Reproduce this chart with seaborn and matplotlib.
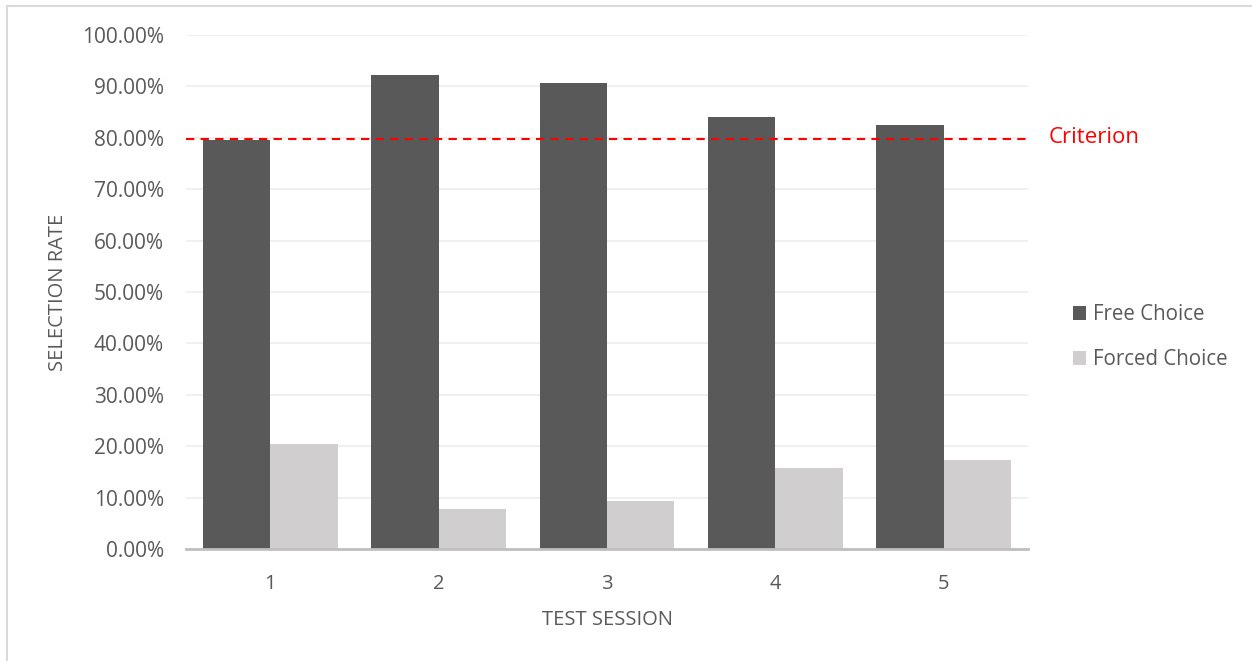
import matplotlib
matplotlib.use("Agg")
import matplotlib.pyplot as plt
from matplotlib.lines import Line2D
from matplotlib.patches import Patch
from matplotlib.ticker import PercentFormatter
import pandas as pd
import seaborn as sns

sessions = ["1", "2", "3", "4", "5"]
free_choice = [0.795, 0.922, 0.906, 0.841, 0.825]
forced_choice = [0.205, 0.078, 0.094, 0.158, 0.174]
criterion = 0.797
series = ["Free Choice", "Forced Choice"]
colors = ["#595959", "#D0CECE"]

df = pd.DataFrame({
    "session": sessions * 2,
    "rate": free_choice + forced_choice,
    "type": [series[0]] * 5 + [series[1]] * 5,
})

sns.set_style("white")
plt.rcParams["font.family"] = ["Open Sans", "DejaVu Sans"]
text_gray = "#595959"

fig = plt.figure(figsize=(12.52, 6.61), dpi=100)
ax = fig.add_axes([186 / 1252, 1 - 549 / 661, 842 / 1252, 514 / 661])

sns.barplot(data=df, x="session", y="rate", hue="type", palette=colors,
            ax=ax, width=0.8, linewidth=0, legend=False, saturation=1)

ax.axhline(criterion, color="#FF0000", linestyle=(0, (4, 3)), linewidth=1.5, zorder=5)
ax.text(1.024, criterion + 0.004, "Criterion", transform=ax.get_yaxis_transform(),
        color="#FF0000", fontsize=16, va="center", ha="left")

ax.set_ylim(0, 1.0)
ax.set_yticks([i / 10 for i in range(11)])
ax.yaxis.set_major_formatter(PercentFormatter(1.0, decimals=2))
ax.grid(axis="y", color="#EEEEEE", linewidth=1.2)
ax.set_axisbelow(True)
for s in ["top", "right", "left"]:
    ax.spines[s].set_visible(False)
ax.spines["bottom"].set_color("#BFBFBF")
ax.spines["bottom"].set_linewidth(2)
ax.tick_params(axis="y", length=0, pad=16, labelsize=15, labelcolor=text_gray)
ax.tick_params(axis="x", length=0, pad=18, labelsize=14.5, labelcolor=text_gray)

ax.set_xlabel("TEST SESSION", fontsize=14.5, color=text_gray)
ax.set_ylabel("SELECTION RATE", fontsize=14.5, color=text_gray)
ax.xaxis.set_label_coords(0.5, -0.119)
ax.yaxis.set_label_coords(-0.140, 0.5)

handles = [Patch(facecolor=c, edgecolor="none") for c in colors]
fig.legend(handles, series, loc="center left", bbox_to_anchor=(1054 / 1252, 1 - 337 / 661),
           frameon=False, fontsize=14.8, handlelength=0.68, handleheight=0.68,
           handletextpad=0.3, labelspacing=1.15, labelcolor=text_gray)

# chart border (left and top edges visible)
fig.add_artist(Line2D([7 / 1252, 7 / 1252], [0, 1 - 6 / 661], color="#D9D9D9", linewidth=1.5))
fig.add_artist(Line2D([7 / 1252, 1], [1 - 6 / 661, 1 - 6 / 661], color="#D9D9D9", linewidth=1.5))

fig.savefig("out.png", dpi=100)
